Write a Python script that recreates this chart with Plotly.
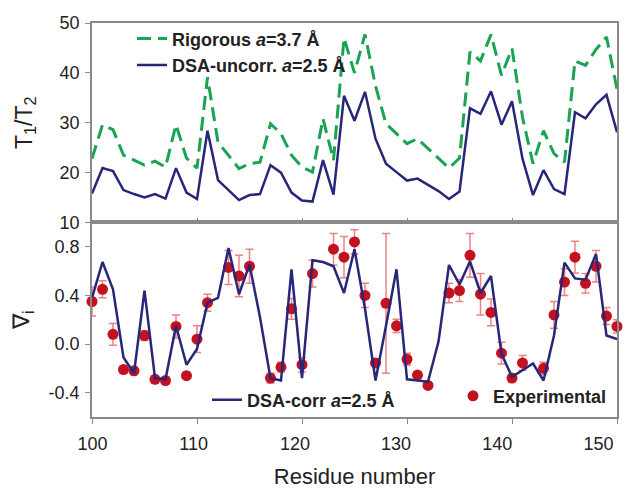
import plotly.graph_objects as go

residues = list(range(100, 151))

rigorous = [22.8, 29.6, 28.6, 23.5, 22.5, 21.5, 22.3, 21.1, 29.6, 22.9,
            20.9, 39.1, 26.1, 23.5, 20.8, 21.8, 22.1, 29.8, 27.8, 23.5,
            21.1, 20.1, 30.8, 22.5, 47.0, 40.0, 47.7, 37.4, 29.8, 27.8,
            25.8, 26.8, 24.8, 22.8, 20.9, 22.9, 44.2, 42.4, 47.7, 39.5,
            44.9, 31.1, 21.8, 28.4, 23.8, 22.1, 42.4, 41.5, 44.7, 47.2,
            36.7]

dsa_uncorr = [15.8, 20.9, 20.3, 16.5, 15.7, 15.0, 15.7, 14.8, 20.9, 16.0,
              14.7, 28.4, 18.5, 16.5, 14.5, 15.5, 15.7, 21.5, 20.0, 16.0,
              14.4, 14.2, 22.5, 15.6, 35.4, 30.4, 36.2, 26.8, 21.8, 20.1,
              18.4, 18.8, 17.5, 16.3, 14.7, 16.2, 32.9, 31.8, 36.3, 29.6,
              34.3, 22.8, 15.5, 20.5, 16.7, 15.7, 32.1, 30.9, 33.7, 35.6,
              28.1]

dsa_corr = [0.38, 0.675, 0.45, -0.11, -0.24, 0.44, -0.28, -0.29, 0.15, -0.17,
            -0.04, 0.34, 0.38, 0.79, 0.41, 0.655, 0.22, -0.28, -0.30, 0.615,
            -0.28, 0.69, 0.675, 0.64, 0.42, 0.78, 0.29, -0.30, 0.15, 0.615,
            -0.29, -0.30, -0.31, 0.02, 0.65, 0.49, 0.68, 0.42, 0.56, -0.08,
            -0.27, -0.215, -0.16, -0.30, 0.07, 0.67, 0.54, 0.53, 0.74, 0.07,
            0.04]

exp_res = [100, 101, 102, 103, 104, 105, 106, 107, 108, 109, 110, 111,
           113, 114, 115, 117, 118, 119, 120, 121,
           123, 124, 125, 126, 127, 128, 129, 130, 131, 132,
           134, 135, 136, 137, 138, 139, 140, 141,
           143, 144, 145, 146, 147, 148, 149, 150]
exp_val = [0.35, 0.45, 0.08, -0.21, -0.22, 0.07, -0.29, -0.30, 0.145, -0.26, 0.04, 0.34,
           0.63, 0.56, 0.64, -0.28, -0.19, 0.29, -0.17, 0.58,
           0.78, 0.715, 0.84, 0.40, -0.155, 0.335, 0.15, -0.125, -0.255, -0.34,
           0.42, 0.44, 0.73, 0.41, 0.26, -0.075, -0.28, -0.155,
           -0.20, 0.24, 0.51, 0.715, 0.50, 0.64, 0.23, 0.145]
exp_err = [0.12, 0.07, 0.09, 0.03, 0.03, 0.04, 0.03, 0.03, 0.095, 0.0, 0.11, 0.07,
           0.14, 0.17, 0.14, 0.04, 0.04, 0.085, 0.06, 0.11,
           0.13, 0.17, 0.10, 0.10, 0.03, 0.575, 0.055, 0.05, 0.02, 0.02,
           0.08, 0.09, 0.18, 0.17, 0.11, 0.09, 0.03, 0.06,
           0.05, 0.11, 0.11, 0.13, 0.08, 0.13, 0.07, 0.055]

x_ticks = [100, 110, 120, 130, 140, 150]
x_ticktext = ["100", "110", "120", "130", "140", "150"]
top_ticks = [10, 20, 30, 40, 50]
bot_ticks = [-0.4, 0.0, 0.4, 0.8]
bot_ticktext = ["-0.4", "0.0", "0.4", "0.8"]

GREEN = "#18a452"
NAVY = "#27277a"
RED = "#c4111f"
ERR = "rgba(228,90,90,0.75)"
AXIS = "#8a8a8a"
FONT = "Liberation Sans, Arial, sans-serif"

fig = go.Figure()

fig.add_trace(go.Scatter(
    x=residues, y=rigorous, mode="lines", name="<b>Rigorous <i>a</i>=3.7 Å</b>",
    line=dict(color=GREEN, width=3, dash="14px,7px"),
    xaxis="x", yaxis="y", legend="legend"))
fig.add_trace(go.Scatter(
    x=residues, y=dsa_uncorr, mode="lines", name="<b>DSA-uncorr. <i>a</i>=2.5 Å</b>",
    line=dict(color=NAVY, width=2.5),
    xaxis="x", yaxis="y", legend="legend"))

fig.add_trace(go.Scatter(
    x=exp_res, y=exp_val, mode="markers", name="<b>Experimental</b>",
    marker=dict(color=RED, size=11),
    error_y=dict(type="data", array=exp_err, visible=True, color=ERR,
                 thickness=1.5, width=4),
    cliponaxis=False,
    xaxis="x2", yaxis="y2", legend="legend3"))
fig.add_trace(go.Scatter(
    x=residues, y=dsa_corr, mode="lines", name="<b>DSA-corr <i>a</i>=2.5 Å</b>",
    line=dict(color=NAVY, width=2.5),
    xaxis="x2", yaxis="y2", legend="legend2"))
# empty helper trace so that the residue-label axis (x3) is rendered
fig.add_trace(go.Scatter(x=[], y=[], mode="lines", showlegend=False,
                         hoverinfo="skip", xaxis="x3", yaxis="y2"))

split = (417 - 221) / 397.0
PW = 525.0
PH = 397.0


def px_x(p):
    return (p - 92) / PW


def px_y(p):
    return 1 - (p - 20) / PH


axis_common = dict(showline=True, linecolor=AXIS, linewidth=1.5, mirror=True,
                   showgrid=False, zeroline=False, tickcolor=AXIS, ticklen=5,
                   tickwidth=1.2, automargin=False,
                   tickfont=dict(family=FONT, size=18, color="#222"))

legend_common = dict(bgcolor="rgba(0,0,0,0)", borderwidth=0, xanchor="left",
                     yanchor="middle",
                     font=dict(family=FONT, size=18, color="#222"))

# residue labels of the original sit on a slightly compressed scale
label_range = [99.95, 151.83]

fig.update_layout(
    width=627, height=481,
    margin=dict(l=84, r=18, t=12, b=72),
    paper_bgcolor="white", plot_bgcolor="white",
    font=dict(family=FONT, color="#222"),
    xaxis=dict(domain=[0, 1], range=[100, 150], anchor="y", tickvals=x_ticks,
               showticklabels=False, ticks="inside", **axis_common),
    yaxis=dict(domain=[split, 1], range=[10, 50], anchor="x", tickvals=top_ticks,
               ticks="outside", ticklabelstandoff=2,
               title=dict(text="T<sub>1</sub>/T<sub>2</sub>", standoff=21,
                          font=dict(family=FONT, size=23, color="#222")),
               **axis_common),
    xaxis2=dict(domain=[0, 1], range=[100, 150], anchor="y2", tickvals=x_ticks,
                ticks="outside", showticklabels=False,
                title=dict(text="Residue number", standoff=46,
                           font=dict(family=FONT, size=22, color="#222")),
                **axis_common),
    xaxis3=dict(overlaying="x2", anchor="y2", range=label_range, side="bottom",
                tickvals=x_ticks, ticktext=x_ticktext, ticks="outside",
                ticklen=5, tickcolor="rgba(0,0,0,0)", showline=False,
                showgrid=False, zeroline=False, ticklabelstandoff=5,
                tickfont=dict(family=FONT, size=18, color="#222")),
    yaxis2=dict(domain=[0, split], range=[-0.6, 1.0], anchor="x2",
                tickvals=bot_ticks, ticktext=bot_ticktext, ticks="outside",
                ticklabelstandoff=2,
                title=dict(text="∇<sub>i</sub>", standoff=14,
                           font=dict(family=FONT, size=23, color="#222")),
                **axis_common),
    legend=dict(x=px_x(132), y=px_y(49), tracegroupgap=0, **legend_common),
    legend2=dict(x=px_x(207), y=px_y(400), **legend_common),
    legend3=dict(x=px_x(453), y=px_y(396), **legend_common),
)

fig.write_html("out.html")
